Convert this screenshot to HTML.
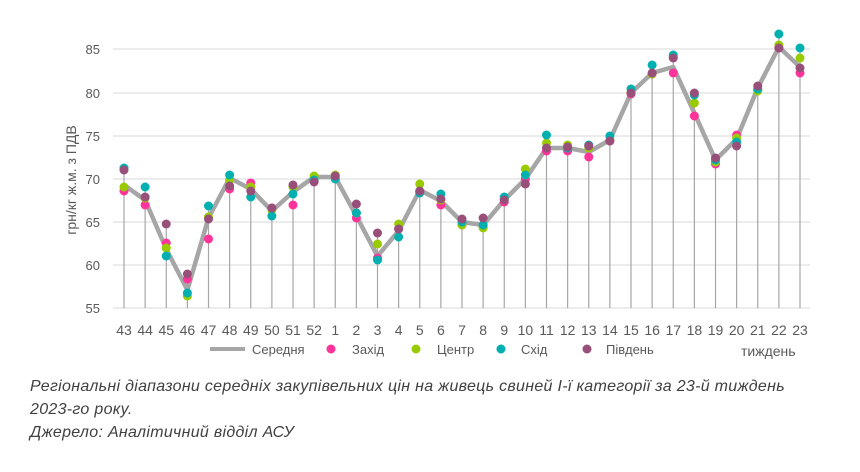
<!DOCTYPE html>
<html><head><meta charset="utf-8"><style>
body{margin:0;background:#fff;width:860px;height:472px;overflow:hidden;font-family:"Liberation Sans",sans-serif}
.cap{position:absolute;left:30px;top:375px;font-style:italic;font-size:16px;letter-spacing:0.3px;line-height:23px;color:#404040;width:765px}
</style></head><body>
<svg width="860" height="472" style="position:absolute;left:0;top:0" font-family="Liberation Sans, sans-serif">
<g stroke="#d9d9d9" stroke-width="1">
<line x1="113" x2="810" y1="308" y2="308"/><line x1="113" x2="810" y1="265" y2="265"/><line x1="113" x2="810" y1="222" y2="222"/><line x1="113" x2="810" y1="179" y2="179"/><line x1="113" x2="810" y1="136" y2="136"/><line x1="113" x2="810" y1="93" y2="93"/><line x1="113" x2="810" y1="49" y2="49"/>
</g>
<g fill="#595959" font-size="13" text-anchor="end">
<text x="100" y="313">55</text><text x="100" y="270">60</text><text x="100" y="227">65</text><text x="100" y="184">70</text><text x="100" y="141">75</text><text x="100" y="98">80</text><text x="100" y="54">85</text>
</g>
<text transform="translate(76,180) rotate(-90)" text-anchor="middle" font-size="14" fill="#595959">грн/кг ж.м. з ПДВ</text>
<g id="gg"></g>
<g fill="#595959" font-size="14" id="xl" text-anchor="middle"></g>
<line x1="210" x2="245" y1="349" y2="349" stroke="#a6a6a6" stroke-width="4"/>
<g font-size="13" fill="#595959">
<text x="252" y="354">Середня</text>
<circle cx="331" cy="349" r="4.5" fill="#ff3399"/><text x="352" y="354">Захід</text>
<circle cx="416" cy="349" r="4.5" fill="#99cc00"/><text x="437" y="354">Центр</text>
<circle cx="501" cy="349" r="4.5" fill="#00b0b0"/><text x="521" y="354">Схід</text>
<circle cx="587" cy="349" r="4.5" fill="#984f7a"/><text x="606" y="354">Південь</text>
<text x="741" y="356" font-size="14">тиждень</text>
</g>
</svg>
<div class="cap">Регіональні діапазони середніх закупівельних цін на живець свиней І-ї категорії за 23-й тиждень 2023-го року.<br>Джерело: Аналітичний відділ АСУ</div>
<script>
(function(){
var labels=["43","44","45","46","47","48","49","50","51","52","1","2","3","4","5","6","7","8","9","10","11","12","13","14","15","16","17","18","19","20","21","22","23"];
var mean=[185,200,249,290,218,178,189,211,192,177,177,216,256,231,190,201,222,225,200,179,148,148,152,140,93,73,67,113,160,139,88,47,67];
var P=[[191,187,168,170],[205,198,187,197],[243,248,256,224],[279,296,293,274],[239,217,206,219],[189,180,175,186],[183,187,197,191],[208,210,216,208],[205,187,194,185],[181,176,180,182],[178,175,179,176],[218,213,213,204],[258,244,260,233],[229,224,237,229],[192,184,193,191],[205,200,194,199],[225,225,222,219],[227,228,225,218],[202,199,197,200],[179,169,175,184],[151,143,135,148],[151,145,148,147],[157,148,145,146],[141,140,136,141],[94,93,89,93],[74,74,65,73],[73,57,55,58],[116,103,95,93],[164,162,160,158],[135,138,142,146],[90,91,89,86],[48,45,34,48],[73,58,48,68]];
var C=["#ff3399","#99cc00","#00b0b0","#984f7a"];
var ns="http://www.w3.org/2000/svg",g=document.getElementById("gg"),xl=document.getElementById("xl");
function el(t,a,p){var e=document.createElementNS(ns,t);for(var k in a)e.setAttribute(k,a[k]);(p||g).appendChild(e);return e;}
var pts=[];
for(var i=0;i<33;i++){var x=124+i*21.125;var tp=Math.min(mean[i],Math.min.apply(null,P[i]));
el("line",{x1:x,x2:x,y1:tp,y2:308,stroke:"#a6a6a6","stroke-width":1.2});pts.push(x+","+mean[i]);
var t=el("text",{x:x,y:335},xl);t.textContent=labels[i];}
el("polyline",{points:pts.join(" "),fill:"none",stroke:"#a6a6a6","stroke-width":4.5,"stroke-linejoin":"round"});
for(var s=0;s<4;s++)for(var i=0;i<33;i++){el("circle",{cx:124+i*21.125,cy:P[i][s],r:4.5,fill:C[s]});}
})();
</script>
</body></html>
